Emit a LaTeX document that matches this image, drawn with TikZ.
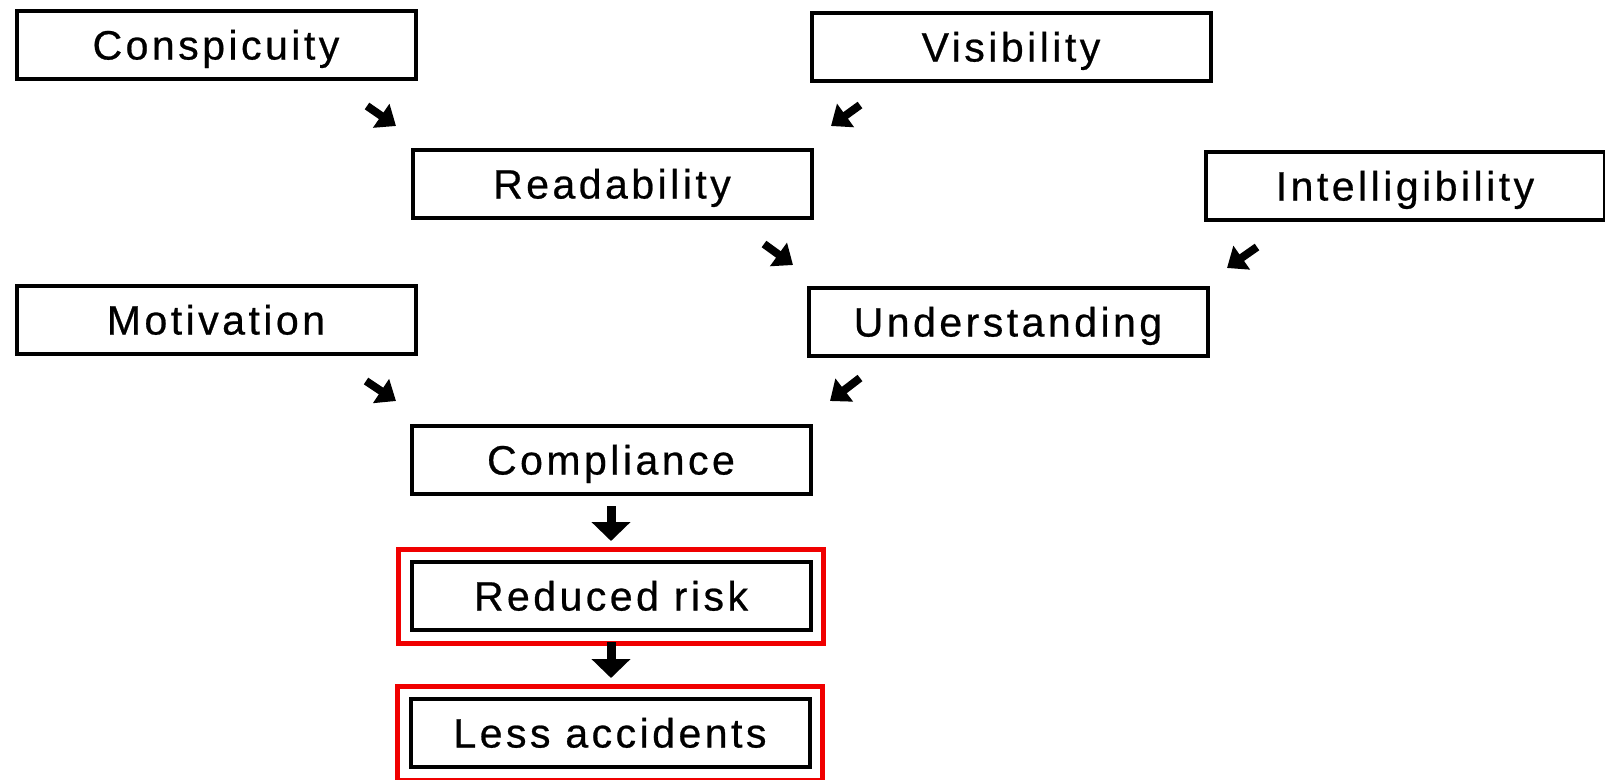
\documentclass[tikz,border=0pt]{standalone}
\usepackage{fontspec}
\setmainfont{Liberation Sans}[LetterSpace=8.5,FakeBold=0.6]
\usetikzlibrary{arrows.meta,fit}
\tikzset{
  box/.style={draw=black, line width=4pt, minimum width=399pt, minimum height=68pt,
    inner sep=0pt, text height=29pt, text depth=0pt,
    font=\fontsize{41}{46}\selectfont, anchor=center},
  redbox/.style={draw={rgb,255:red,240;green,0;blue,0}, line width=5pt, inner sep=11pt},
  diag/.style={line width=8pt, -{Triangle[length=18pt,width=28pt]}},
  down/.style={line width=9pt, -{Triangle[length=19pt,width=38pt]}},
}
\begin{document}
\begin{tikzpicture}[x=1pt,y=-1pt]
\useasboundingbox (0,0) rectangle (1605,779);
\node[box] (consp) at (216,45) {Conspicuity};
\node[box] (visib) at (1011,47) {Visibility};
\node[box] (read) at (612,184) {Readability};
\node[box] (intel) at (1405,186) {Intelligibility};
\node[box] (motiv) at (216,320) {Motivation};
\node[box] (under) at (1008,322) {Understanding};
\node[box] (compl) at (611,460) {Compliance};
\node[box] (risk) at (611,596) {Reduced risk};
\node[box] (less) at (610,733) {Less accidents};
\node[redbox, fit=(risk)] (riskred) {};
\node[redbox, fit=(less)] (lessred) {};
% arrows
\coordinate (a1s) at (367,106); \coordinate (a1e) at (396,126);
\coordinate (a2s) at (860,105); \coordinate (a2e) at (831,126);
\coordinate (a3s) at (764,244); \coordinate (a3e) at (793,265);
\coordinate (a4s) at (1257,247); \coordinate (a4e) at (1227,268);
\coordinate (a5s) at (366,381); \coordinate (a5e) at (396,401);
\coordinate (a6s) at (860,378); \coordinate (a6e) at (830,401);
\coordinate (d1s) at (611,506); \coordinate (d1e) at (611,541);
\coordinate (d2s) at (611,642); \coordinate (d2e) at (611,678);
\draw[diag] (a1s) -- (a1e);
\draw[diag] (a2s) -- (a2e);
\draw[diag] (a3s) -- (a3e);
\draw[diag] (a4s) -- (a4e);
\draw[diag] (a5s) -- (a5e);
\draw[diag] (a6s) -- (a6e);
\draw[down] (d1s) -- (d1e);
\draw[down] (d2s) -- (d2e);
\end{tikzpicture}
\end{document}
